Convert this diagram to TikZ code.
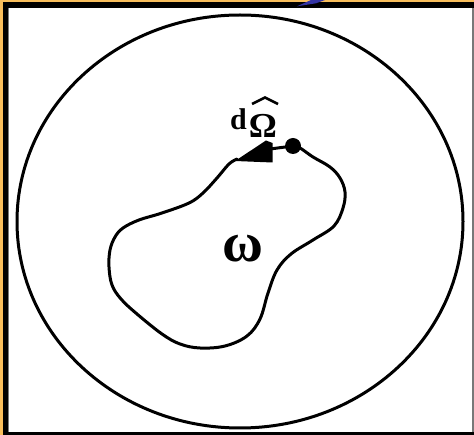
\documentclass[tikz,border=0pt]{standalone}
\usepackage{fontspec}
\setmainfont{Liberation Serif}
\definecolor{frameorange}{RGB}{248,190,92}
\definecolor{framegrey}{RGB}{120,120,120}
\definecolor{arrowblue}{RGB}{52,52,165}
\begin{document}
\begin{tikzpicture}[x=1pt,y=-1pt,
  curve/.style={line width=3pt,line join=round,line cap=round},
  lbl/.style={inner sep=0pt,outer sep=0pt,font=\bfseries}]
\useasboundingbox (0,0) rectangle (474,435);
% frame
\fill[frameorange] (0,0) rectangle (474,435);
\fill[black] (3,2) rectangle (474,435);
\fill[white] (8,8) rectangle (472,432);
\fill[framegrey] (8,8) rectangle (9.2,432);
\fill[framegrey] (472,8) rectangle (474,432);
\fill[arrowblue] (297,6.3) -- (311,0) -- (325,0) -- (316,3.3) -- cycle;
% outer circle
\draw[line width=3pt] (240,221.5) ellipse [x radius=223, y radius=206.5];
% blob
\coordinate (dot) at (293,146);
\coordinate (tip) at (235,161);
\draw[curve] plot[smooth,tension=0.6] coordinates {
 (293,146) (300,148) (313,157) (330,167) (340,178) (345,192) (343,208)
 (334,226) (313,240) (291,254) (277,270) (268,293) (260,319) (247,336)
 (225,346) (200,348) (180,344) (162,334) (137,314) (121,299) (112,285)
 (109,267) (110,250) (115,237) (123,228) (139,220) (162,213) (189,203)
 (203,193) (217,178) (229,164) (237,159)};
\fill (tip) -- (266,140.5) -- (272.5,143) -- (272.5,162.5) -- cycle;
\draw[curve] (270,149) -- (dot);
\fill (dot) circle (8);
% labels
\node[lbl,anchor=base] (omega) at (242.5,262) {\fontsize{56}{56}\selectfont ω};
\node[lbl,anchor=base west] (d) at (230,130) {\fontsize{30}{30}\selectfont d};
\node[lbl,anchor=base] (Omega) at (263,138) {\fontsize{35}{35}\selectfont Ω};
\draw[line width=2.6pt,line join=miter] (252,104) -- (265,97.5) -- (278,104);
\end{tikzpicture}
\end{document}
